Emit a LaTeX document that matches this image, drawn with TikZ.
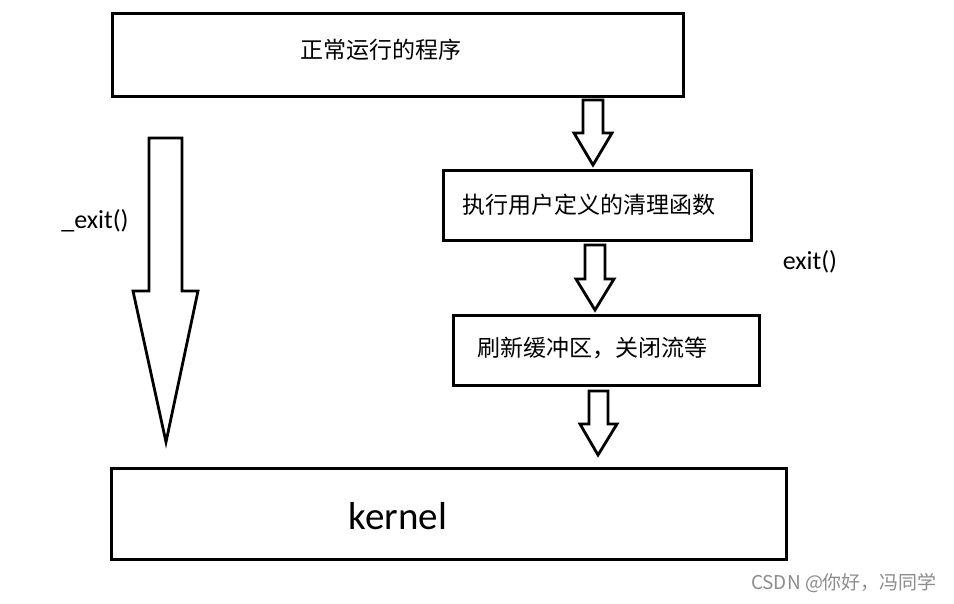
\documentclass[tikz,border=0pt]{standalone}
\usepackage{fontspec}
\setmainfont{Noto Sans CJK SC}
\newfontfamily\latinf{Carlito}
\tikzset{
  box/.style={draw=black, line width=3pt, minimum height=#1, inner sep=0pt, anchor=north west},
  lbl/.style={inner sep=0pt, font=\fontsize{23}{23}\selectfont},
  latlbl/.style={inner sep=0pt, font=\latinf\fontsize{26}{26}\selectfont},
  blockarrow/.style={draw=black, line width=2.8pt, fill=white, line join=miter}
}
\begin{document}
\begin{tikzpicture}[x=1pt,y=-1pt]
\useasboundingbox[fill=white] (0,0) rectangle (954,603);
% boxes
\node[box=83pt, minimum width=571pt] (prog) at (111,12) {};
\node[lbl] (progt) at (381,50) {正常运行的程序};
\node[box=70pt, minimum width=308pt] (clean) at (442,169) {};
\node[lbl] (cleant) at (589,205) {执行用户定义的清理函数};
\node[box=70pt, minimum width=306pt] (flush) at (452,314) {};
\node[lbl] (flusht) at (592,348) {刷新缓冲区，关闭流等};
\node[box=91pt, minimum width=675pt] (kern) at (110,467) {};
\node[inner sep=0pt, font=\latinf\fontsize{39}{39}\selectfont] (kernt) at (398,516) {kernel};
% labels
\node[latlbl] (uexit) at (95,221) {\_exit()};
\node[latlbl] (exit) at (810,262) {exit()};
\node[inner sep=0pt, text=black!45, font=\fontsize{19}{19}\selectfont] (wm) at (844,583) {CSDN @你好，冯同学};
% block arrows (right column)
\draw[blockarrow] (583,100) -- (603,100) -- (603,133) -- (612,133) -- (593,165) -- (574,133) -- (583,133) -- cycle;
\draw[blockarrow] (585,245) -- (605,245) -- (605,279) -- (614,279) -- (595,310) -- (576,279) -- (585,279) -- cycle;
\draw[blockarrow] (589,391) -- (608,391) -- (608,424) -- (617,424) -- (598,455) -- (580,424) -- (589,424) -- cycle;
% big left arrow
\draw[blockarrow] (149,138) -- (182,138) -- (182,291) -- (198,291) -- (166,442) -- (133,291) -- (149,291) -- cycle;
\end{tikzpicture}
\end{document}
